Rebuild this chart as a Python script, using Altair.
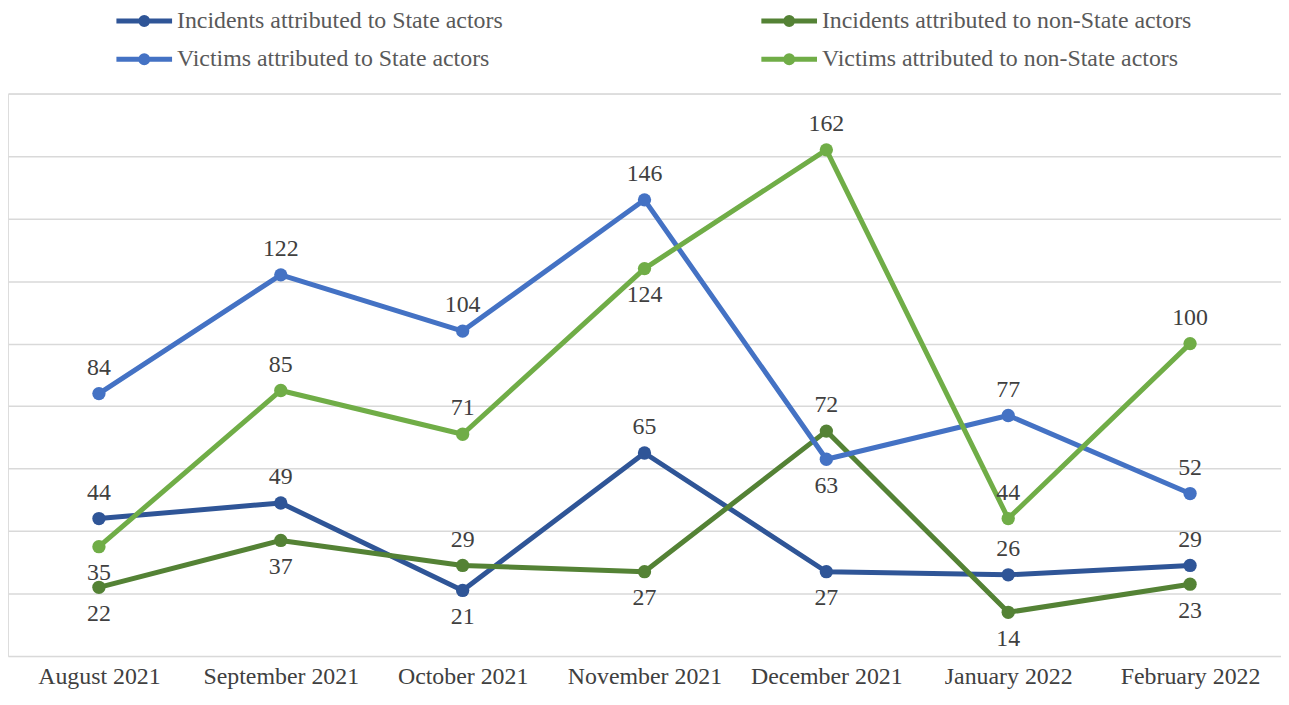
import altair as alt
import pandas as pd

months = ["August 2021", "September 2021", "October 2021", "November 2021",
          "December 2021", "January 2022", "February 2022"]
series_names = [
    "Incidents attributed to State actors",
    "Incidents attributed to non-State actors",
    "Victims attributed to State actors",
    "Victims attributed to non-State actors",
]
incidents_state = [44, 49, 21, 65, 27, 26, 29]
incidents_nonstate = [22, 37, 29, 27, 72, 14, 23]
victims_state = [84, 122, 104, 146, 63, 77, 52]
victims_nonstate = [35, 85, 71, 124, 162, 44, 100]

pos_incidents_state = ["above", "above", "below", "above", "below", "above", "above"]
pos_incidents_nonstate = ["below", "below", "above", "below", "above", "below", "below"]
pos_victims_state = ["above", "above", "above", "above", "below", "above", "above"]
pos_victims_nonstate = ["below", "above", "above", "below", "above", "above", "above"]

colors = ["#2F5597", "#548235", "#4472C4", "#70AD47"]

rows = []
for name, vals, pos in zip(series_names,
                           [incidents_state, incidents_nonstate, victims_state, victims_nonstate],
                           [pos_incidents_state, pos_incidents_nonstate, pos_victims_state, pos_victims_nonstate]):
    for i, (m, v, p) in enumerate(zip(months, vals, pos)):
        rows.append({"month": m, "idx": i, "value": v, "series": name, "pos": p})
df = pd.DataFrame(rows)

FONT = "Liberation Serif"
FS = 24

legend_path = "M-1.1,0L2.9,0M0.65,0A0.25,0.25 0 1,1 1.15,0A0.25,0.25 0 1,1 0.65,0"
legend = alt.Legend(
    title=None, orient="none", legendX=108, legendY=-90, columns=2, direction="horizontal",
    columnPadding=250, rowPadding=8, symbolType=legend_path, symbolSize=784,
    symbolStrokeWidth=5, labelFont=FONT, labelFontSize=FS, labelColor="#595959",
    labelOffset=29, labelLimit=600,
)

x_enc = alt.X("month:N", sort=months, title=None,
              scale=alt.Scale(padding=0.5),
              axis=alt.Axis(labelAngle=0, labelFont=FONT, labelFontSize=FS,
                            labelColor="#404040", ticks=False, domain=False,
                            labelPadding=9, grid=False))
y_enc = alt.Y("value:Q", title=None,
              scale=alt.Scale(domain=[0, 180], nice=False, zero=True),
              axis=alt.Axis(values=list(range(0, 181, 20)), labels=False, ticks=False,
                            domain=False, grid=True, gridColor="#D9D9D9", gridWidth=1.5))
color_enc = alt.Color("series:N", sort=series_names,
                      scale=alt.Scale(domain=series_names, range=colors),
                      legend=legend)

base = alt.Chart(df)

lines = base.mark_line(strokeWidth=5, strokeCap="round", strokeJoin="round").encode(
    x=x_enc, y=y_enc, color=color_enc, order=alt.Order("idx:Q")
)
points = base.mark_point(filled=True, size=180, opacity=1).encode(
    x=x_enc, y=y_enc, color=color_enc
)

text_common = dict(font=FONT, fontSize=FS, color="#404040", baseline="middle", align="center")
labels_above = base.transform_filter(alt.datum.pos == "above").mark_text(dy=-26, **text_common).encode(
    x=alt.X("month:N", sort=months), y=alt.Y("value:Q"), text=alt.Text("value:Q")
)
labels_below = base.transform_filter(alt.datum.pos == "below").mark_text(dy=27, **text_common).encode(
    x=alt.X("month:N", sort=months), y=alt.Y("value:Q"), text=alt.Text("value:Q")
)

chart = alt.layer(lines, points, labels_above, labels_below).properties(
    width=1281, height=566,
    autosize=alt.AutoSizeParams(type="none"),
    padding={"left": 0, "right": 0, "top": 84, "bottom": 34},
).configure_view(stroke=None).configure(background="white")

chart.save("out.html", embed_options={"renderer": "svg", "actions": False})
